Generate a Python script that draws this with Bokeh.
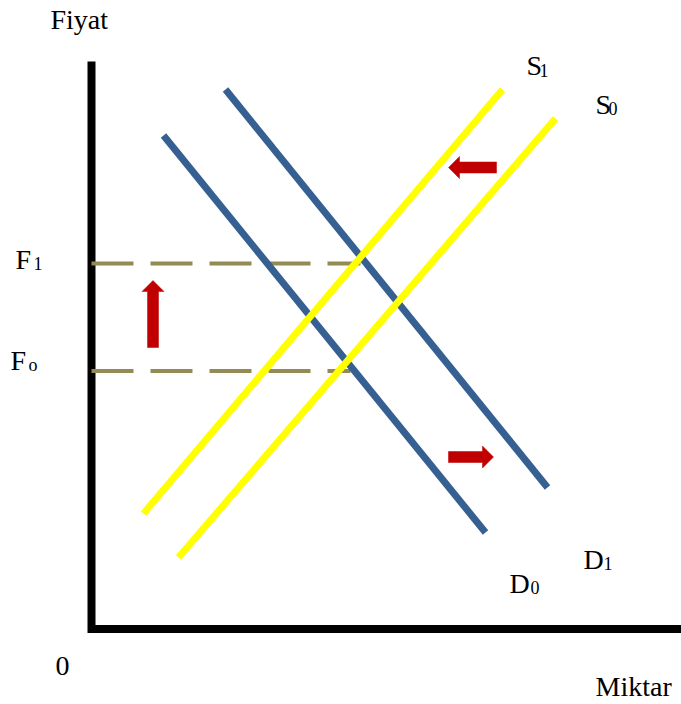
from bokeh.plotting import figure
from bokeh.models import Range1d
from bokeh.core.properties import value
from bokeh.embed import file_html
from bokeh.resources import INLINE

PX = 50.0  # screen pixels per unit (equal on both axes)

# ---- data (quantity = x, price = y) ----
axis_q = [0.0, 0.0, 11.8]
axis_p = [11.35, 0.0, 0.0]

d0_q = [1.44, 7.88]
d0_p = [9.87, 1.93]
d1_q = [2.68, 9.12]
d1_p = [10.79, 2.83]
s1_q = [1.04, 8.22]
s1_p = [2.31, 10.79]
s0_q = [1.74, 9.28]
s0_p = [1.43, 10.21]

price_levels = [7.31, 5.16]     # F1, Fo
price_end_q = [5.38, 5.18]

# shift arrows: tail (q, p) -> tip (q, p)
arrow_tail_q = [8.10, 7.14, 1.23]
arrow_tail_p = [9.23, 3.44, 5.63]
arrow_tip_q = [7.14, 8.04, 1.23]
arrow_tip_p = [9.23, 3.44, 6.97]

main_labels = ["Fiyat", "Miktar", "0", "F", "F", "S", "S", "D", "D"]
main_q = [-0.82, 10.08, -0.72, -1.52, -1.62, 8.70, 10.08, 9.84, 8.36]
main_p = [11.95, -1.39, -0.97, 7.15, 5.13, 11.03, 10.25, 1.15, 0.67]

sub_labels = ["1", "o", "1", "0", "1", "0"]
sub_q = [-1.16, -1.26, 8.96, 10.34, 10.24, 8.78]
sub_p = [7.07, 5.05, 10.93, 10.17, 1.07, 0.59]

# ---- figure ----
W, H = 681, 704
x0 = -91 / PX
y1 = 628.5 / PX
p = figure(width=W, height=H, output_backend="svg", toolbar_location=None,
           x_range=Range1d(x0, x0 + W / PX), y_range=Range1d(y1 - H / PX, y1),
           min_border=0, background_fill_color="white", border_fill_color="white")
p.axis.visible = False
p.grid.visible = False
p.outline_line_color = None

# axes
p.line(axis_q, axis_p, line_color="black", line_width=8, line_join="miter")

# dashed price levels
p.multi_line([[0.0, q] for q in price_end_q], [[lv, lv] for lv in price_levels],
             line_color="#948A54", line_width=4, line_dash="42 17")

# demand curves
for qs, ps in [(d0_q, d0_p), (d1_q, d1_p)]:
    p.line(qs, ps, line_color="#376092", line_width=7)
# supply curves
for qs, ps in [(s1_q, s1_p), (s0_q, s0_p)]:
    p.line(qs, ps, line_color="#FFFF00", line_width=7)

# block arrows
BODY, HEAD_W, HEAD_L = 11, 22, 11
axs, ays = [], []
for tq, tp, hq, hp in zip(arrow_tail_q, arrow_tail_p, arrow_tip_q, arrow_tip_p):
    dx, dy = hq - tq, hp - tp
    L = (dx * dx + dy * dy) ** 0.5
    ux, uy = dx / L, dy / L
    nx, ny = -uy, ux
    b = BODY / 2 / PX
    h = HEAD_W / 2 / PX
    nq, np_ = hq - ux * HEAD_L / PX, hp - uy * HEAD_L / PX
    xs = [tq + nx * b, nq + nx * b, nq + nx * h, hq, nq - nx * h, nq - nx * b, tq - nx * b]
    ys = [tp + ny * b, np_ + ny * b, np_ + ny * h, hp, np_ - ny * h, np_ - ny * b, tp - ny * b]
    axs.append(xs)
    ays.append(ys)
p.patches(axs, ays, fill_color="#C00000", line_color="#C00000", line_width=0.5)

# labels (small baseline correction for the SVG text renderer)
TEXT_DY = 12 / PX
p.text(main_q, [v + TEXT_DY for v in main_p], text=main_labels,
       text_font=value("Liberation Serif"),
       text_font_size=value("28px"), text_color="black",
       text_align="left", text_baseline="alphabetic")
p.text(sub_q, [v + TEXT_DY for v in sub_p], text=sub_labels,
       text_font=value("Liberation Serif"),
       text_font_size=value("18px"), text_color="black",
       text_align="left", text_baseline="alphabetic")

open("out.html", "w").write(file_html(p, INLINE))
